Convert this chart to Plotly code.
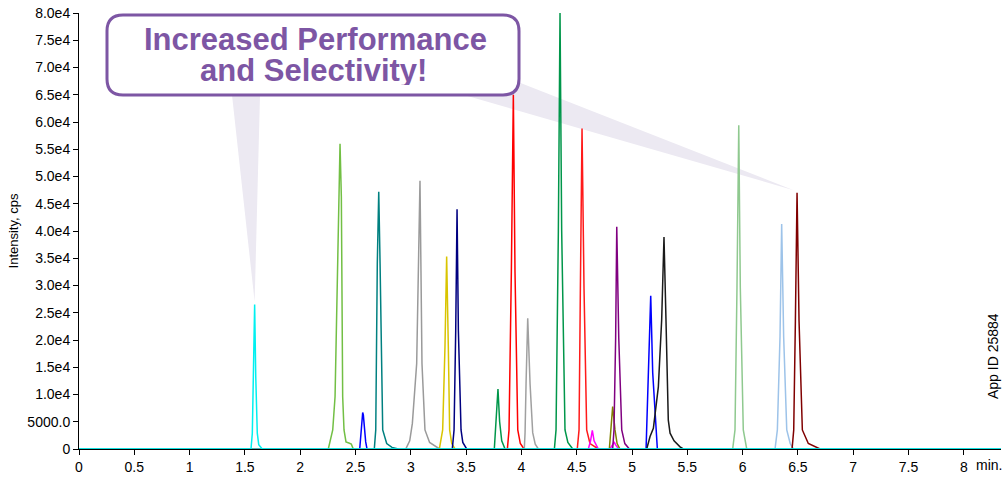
import plotly.graph_objects as go

# ---------------- data ----------------
x_ticks = [0, 0.5, 1, 1.5, 2, 2.5, 3, 3.5, 4, 4.5, 5, 5.5, 6, 6.5, 7, 7.5, 8]
x_tick_labels = ["0", "0.5", "1", "1.5", "2", "2.5", "3", "3.5", "4", "4.5",
                 "5", "5.5", "6", "6.5", "7", "7.5", "8"]
y_ticks = [0, 5000, 10000, 15000, 20000, 25000, 30000, 35000, 40000,
           45000, 50000, 55000, 60000, 65000, 70000, 75000, 80000]
y_tick_labels = ["0", "5000.0", "1.0e4", "1.5e4", "2.0e4", "2.5e4", "3.0e4",
                 "3.5e4", "4.0e4", "4.5e4", "5.0e4", "5.5e4", "6.0e4",
                 "6.5e4", "7.0e4", "7.5e4", "8.0e4"]

yellowgreen_t = [2.254, 2.294, 2.315, 2.351, 2.360, 2.372, 2.384, 2.396, 2.414, 2.440, 2.462, 2.480]
yellowgreen_y = [0, 3500, 9600, 46300, 56000, 46300, 9600, 3500, 1300, 1100, 900, 0]

blue1_t = [2.538, 2.550, 2.559, 2.565, 2.571, 2.580, 2.592, 2.604]
blue1_y = [0, 3500, 6200, 6700, 6200, 3500, 1300, 0]

teal_t = [2.670, 2.683, 2.697, 2.710, 2.722, 2.746, 2.782, 2.830, 2.887]
teal_y = [0, 3500, 34000, 47200, 34000, 3500, 1000, 300, 0]

gray1_t = [2.954, 2.990, 3.014, 3.053, 3.083, 3.101, 3.128, 3.170, 3.260]
gray1_y = [0, 1500, 4700, 15700, 49200, 15700, 3500, 1200, 0]

yellow_t = [3.258, 3.288, 3.309, 3.324, 3.339, 3.351, 3.370, 3.400]
yellow_y = [0, 3500, 18800, 35300, 18800, 3500, 1000, 0]

navy_t = [3.375, 3.391, 3.406, 3.418, 3.430, 3.454, 3.470, 3.505]
navy_y = [0, 3500, 21800, 44000, 21800, 3500, 1200, 0]

green1_t = [3.755, 3.773, 3.788, 3.803, 3.822, 3.852]
green1_y = [0, 5000, 11000, 5000, 1500, 0]

red1_t = [3.873, 3.888, 3.909, 3.927, 3.942, 3.967, 3.990, 4.024]
red1_y = [0, 3500, 32500, 65000, 32500, 3500, 1000, 0]

gray2_t = [4.026, 4.033, 4.042, 4.057, 4.078, 4.102, 4.125, 4.153]
gray2_y = [0, 3000, 12000, 24000, 12000, 3000, 900, 0]

green2_t = [4.298, 4.313, 4.334, 4.349, 4.364, 4.394, 4.420, 4.464]
green2_y = [0, 3500, 40000, 80000, 40000, 3500, 1200, 0]

red2_t = [4.505, 4.521, 4.533, 4.548, 4.566, 4.590, 4.620, 4.660, 4.695]
red2_y = [0, 3500, 29400, 58800, 29400, 3500, 1000, 400, 0]

magenta_t = [4.605, 4.625, 4.641, 4.657, 4.695, 4.800, 4.825, 4.838, 4.850, 4.880]
magenta_y = [0, 1500, 3400, 1500, 0, 0, 800, 1300, 800, 0]

olive_t = [4.795, 4.810, 4.825, 4.846, 4.865, 4.891]
olive_y = [0, 3500, 7800, 3500, 1000, 0]

purple_t = [4.825, 4.837, 4.852, 4.862, 4.880, 4.907, 4.935, 4.976]
purple_y = [0, 3500, 20400, 40800, 20400, 3500, 1000, 0]

blue2_t = [5.127, 5.133, 5.148, 5.169, 5.187, 5.217, 5.229]
blue2_y = [0, 3500, 14000, 28100, 14000, 3500, 0]

black_t = [5.133, 5.163, 5.193, 5.238, 5.268, 5.289, 5.307, 5.328, 5.344, 5.380, 5.434, 5.464]
black_y = [0, 2300, 3800, 11400, 23700, 38900, 23700, 5300, 2900, 1500, 400, 0]

lightgreen_t = [5.910, 5.931, 5.949, 5.965, 5.979, 6.006, 6.037]
lightgreen_y = [0, 3500, 29700, 59400, 29700, 3500, 0]

lightblue_t = [6.293, 6.314, 6.338, 6.353, 6.371, 6.399, 6.430, 6.459]
lightblue_y = [0, 3500, 20600, 41300, 20600, 3500, 1000, 0]

maroon_t = [6.447, 6.462, 6.477, 6.492, 6.510, 6.540, 6.594, 6.700]
maroon_y = [0, 3500, 23500, 47000, 23500, 3500, 1000, 0]

teal_base_t = [0, 8.336]
teal_base_y = [0, 0]

cyan_t = [0, 1.555, 1.567, 1.576, 1.588, 1.598, 1.612, 1.625, 1.657, 8.336]
cyan_y = [0, 0, 2900, 13300, 26500, 13300, 2900, 800, 0, 0]

# ---------------- styles ----------------
series = [
    (yellowgreen_t, yellowgreen_y, "#72BF44"),
    (blue1_t, blue1_y, "#0000FF"),
    (teal_t, teal_y, "#008080"),
    (gray1_t, gray1_y, "#9A9A9A"),
    (yellow_t, yellow_y, "#D9C400"),
    (navy_t, navy_y, "#000080"),
    (green1_t, green1_y, "#00964A"),
    (red1_t, red1_y, "#FF0000"),
    (gray2_t, gray2_y, "#A0A0A0"),
    (green2_t, green2_y, "#00964A"),
    (red2_t, red2_y, "#FF1A1A"),
    (magenta_t, magenta_y, "#FF00FF"),
    (olive_t, olive_y, "#808000"),
    (purple_t, purple_y, "#800080"),
    (blue2_t, blue2_y, "#0000FF"),
    (black_t, black_y, "#1A1A1A"),
    (lightgreen_t, lightgreen_y, "#8FC98F"),
    (lightblue_t, lightblue_y, "#9DC3E9"),
    (maroon_t, maroon_y, "#800000"),
    (teal_base_t, teal_base_y, "#1A9A9A"),
    (cyan_t, cyan_y, "#00F0F0"),
]

FONT = "Liberation Sans, Arial, Helvetica, sans-serif"
W, H = 1002, 477
L, R, T, B = 79, 1, 13, 28
X_MAX = 8.336
Y_MAX = 80000
PURPLE = "#7D56A4"
LAVENDER = "#ECE9F2"

fig = go.Figure()
for t, y, c in series:
    fig.add_trace(go.Scatter(x=t, y=y, mode="lines",
                             line=dict(color=c, width=1.5),
                             hoverinfo="skip", showlegend=False))

plot_w = W - L - R
plot_h = H - T - B


def px_to_data(px, py):
    return ((px - L) / plot_w * X_MAX, (H - B - py) / plot_h * Y_MAX)


# callout pointer triangles (tips at the cyan and maroon peak apices)
tip1 = (cyan_t[cyan_y.index(max(cyan_y))], max(cyan_y) + 500)
tip2 = (maroon_t[maroon_y.index(max(maroon_y))] - 0.03, max(maroon_y) + 500)
a1, b1 = px_to_data(232, 95), px_to_data(260, 95)
a2, b2 = px_to_data(464, 95), px_to_data(518, 82)
fig.add_shape(type="path", xref="x", yref="y", layer="below",
              path=f"M{a1[0]},{a1[1]} L{b1[0]},{b1[1]} L{tip1[0]},{tip1[1]} Z",
              fillcolor=LAVENDER, line=dict(width=0))
fig.add_shape(type="path", xref="x", yref="y", layer="below",
              path=f"M{a2[0]},{a2[1]} L{b2[0]},{b2[1]} L{tip2[0]},{tip2[1]} Z",
              fillcolor=LAVENDER, line=dict(width=0))


def pp(px, py):
    return ((px - L) / plot_w, (H - B - py) / plot_h)


def P(px, py):
    x, y = pp(px, py)
    return f"{x},{y}"


# rounded callout box
bx0, by0, bx1, by1, rad = 107, 15, 519, 95, 16
path = (f"M{P(bx0 + rad, by0)} L{P(bx1 - rad, by0)} Q{P(bx1, by0)} {P(bx1, by0 + rad)} "
        f"L{P(bx1, by1 - rad)} Q{P(bx1, by1)} {P(bx1 - rad, by1)} "
        f"L{P(bx0 + rad, by1)} Q{P(bx0, by1)} {P(bx0, by1 - rad)} "
        f"L{P(bx0, by0 + rad)} Q{P(bx0, by0)} {P(bx0 + rad, by0)} Z")
fig.add_shape(type="path", xref="paper", yref="paper", layer="above",
              path=path, fillcolor="white", line=dict(color=PURPLE, width=3))

for text, cx, cy in [("<b>Increased Performance</b>", 315, 39.5), ("<b>and Selectivity!</b>", 313, 70.5)]:
    x, y = pp(cx, cy)
    fig.add_annotation(xref="paper", yref="paper", x=x, y=y, text=text,
                       showarrow=False, xanchor="center", yanchor="middle",
                       height=29, borderpad=0,
                       font=dict(family=FONT, size=31, color=PURPLE))

# side texts
x, y = pp(989, 465)
fig.add_annotation(xref="paper", yref="paper", x=x, y=y, text="min.",
                   showarrow=False, xanchor="center", yanchor="middle",
                   font=dict(family=FONT, size=14, color="black"))
x, y = pp(993, 356)
fig.add_annotation(xref="paper", yref="paper", x=x, y=y, text="App ID 25884",
                   showarrow=False, xanchor="center", yanchor="middle", textangle=-90,
                   font=dict(family=FONT, size=14, color="black"))

fig.update_layout(
    width=W, height=H,
    margin=dict(l=L, r=R, t=T, b=B, pad=0, autoexpand=False),
    paper_bgcolor="white", plot_bgcolor="white",
    font=dict(family=FONT, size=14, color="black"),
    xaxis=dict(range=[0, X_MAX], tickvals=x_ticks, ticktext=x_tick_labels,
               automargin=False,
               showgrid=False, zeroline=False, showline=True, linecolor="black",
               linewidth=1, ticks="outside", ticklen=5, tickcolor="black",
               tickfont=dict(family=FONT, size=14)),
    yaxis=dict(range=[0, Y_MAX], tickvals=y_ticks, ticktext=y_tick_labels,
               automargin=False,
               showgrid=False, zeroline=False, showline=True, linecolor="black",
               linewidth=1, ticks="outside", ticklen=5, tickcolor="black",
               tickfont=dict(family=FONT, size=14),
               title=dict(text="Intensity, cps", standoff=5,
                          font=dict(family=FONT, size=13))),
)

fig.write_html("out.html", config={"displayModeBar": False},
               post_script="document.body.style.margin='0';document.body.style.overflow='hidden';")
